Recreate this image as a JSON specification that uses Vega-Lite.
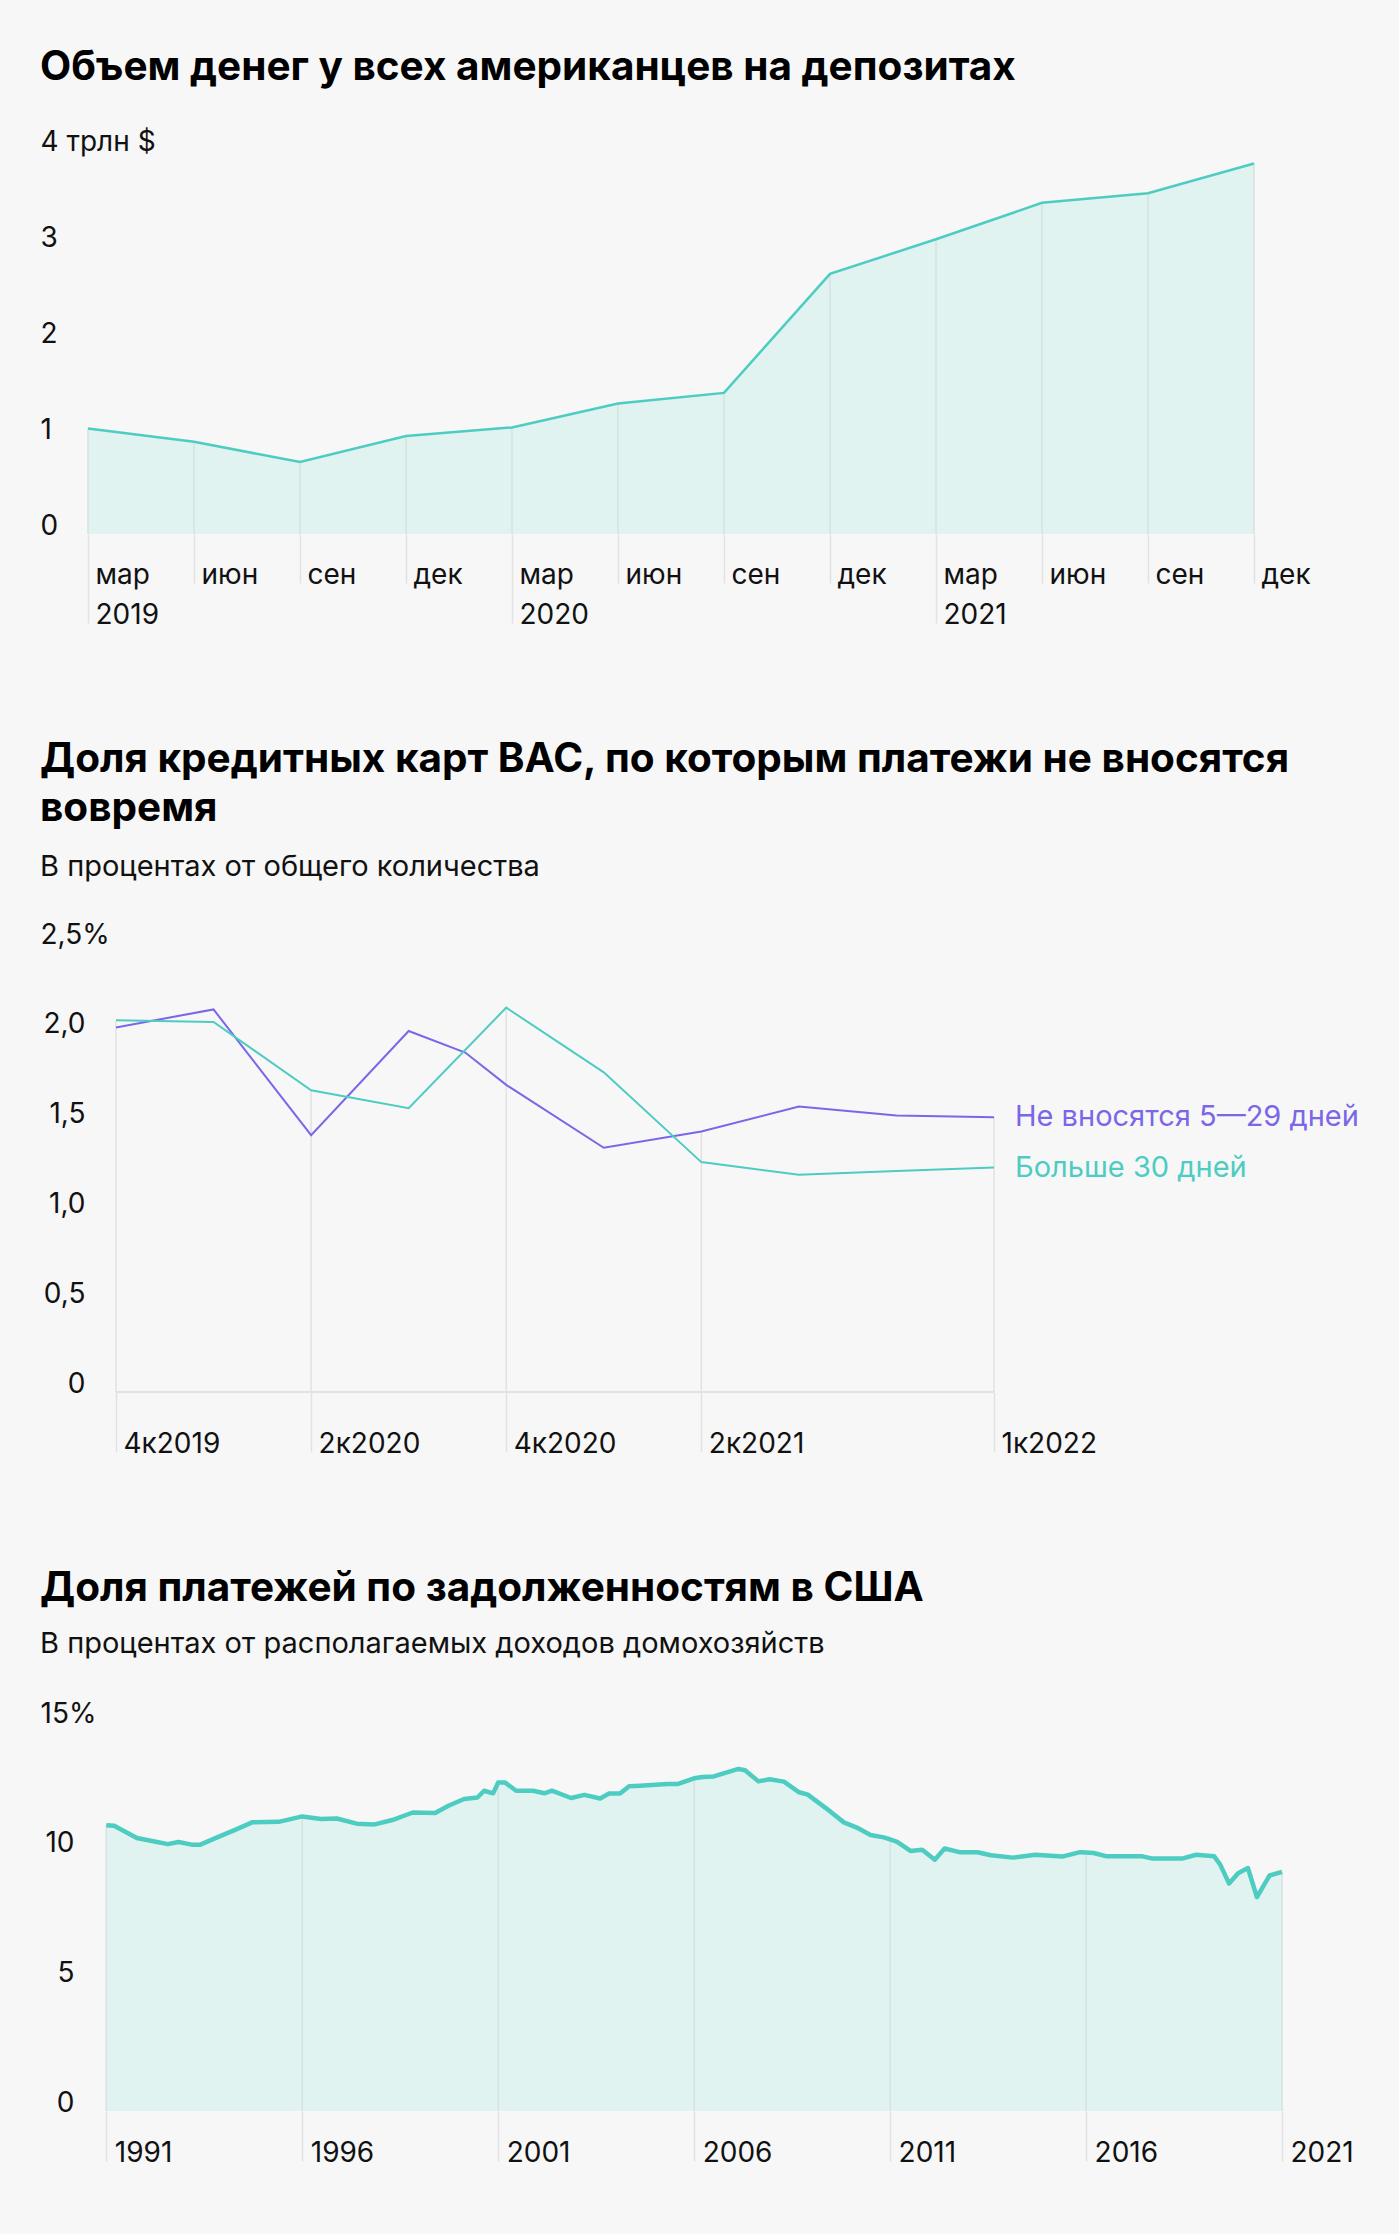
{
  "$schema": "https://vega.github.io/schema/vega-lite/v6.json",
  "background": "#f7f7f7",
  "padding": {"left": 40, "top": 47, "right": 40, "bottom": 110},
  "autosize": {"type": "pad"},
  "spacing": 110,
  "config": {
    "view": {"stroke": null},
    "font": "Inter",
    "title": {"anchor": "start", "frame": "bounds", "font": "Inter", "fontSize": 40.5, "fontWeight": 700, "color": "#000000", "subtitleFont": "Inter", "subtitleFontSize": 29, "subtitleColor": "#111111", "subtitlePadding": 24, "lineHeight": 49, "offset": 39},
    "axis": {"labelFont": "Inter", "labelFontSize": 28, "labelColor": "#111111", "domain": false, "grid": false, "title": null, "labelOverlap": false, "labelFlush": false}
  },
  "vconcat": [
    {
      "width": 1166,
      "height": 384,
      "title": {"text": "Объем денег у всех американцев на депозитах", "offset": 40},
      "data": {"values": [
        {"m": "мар 2019", "v": 1.10},
        {"m": "июн 2019", "v": 0.96},
        {"m": "сен 2019", "v": 0.75},
        {"m": "дек 2019", "v": 1.02},
        {"m": "мар 2020", "v": 1.11},
        {"m": "июн 2020", "v": 1.36},
        {"m": "сен 2020", "v": 1.47},
        {"m": "дек 2020", "v": 2.71},
        {"m": "мар 2021", "v": 3.07},
        {"m": "июн 2021", "v": 3.45},
        {"m": "сен 2021", "v": 3.55},
        {"m": "дек 2021", "v": 3.86}
      ]},
      "encoding": {
        "x": {"field": "m", "type": "ordinal", "sort": null, "scale": {"type": "point", "padding": 0},
          "axis": {
            "labelExpr": "indexof(datum.value,'мар')==0 ? split(datum.value,' ') : split(datum.value,' ')[0]",
            "labelAngle": 0, "labelAlign": "left", "labelBaseline": "alphabetic", "labelOffset": 7, "labelLineHeight": 40,
            "ticks": true, "tickColor": "#e2e2e2", "tickWidth": 1.5,
            "tickSize": {"condition": {"test": "indexof(datum.value,'мар')==0", "value": 89}, "value": 49},
            "labelPadding": {"condition": {"test": "indexof(datum.value,'мар')==0", "value": -40}, "value": 0}
          }
        }
      },
      "layer": [
        {"mark": {"type": "area", "color": "#e1f3f0"},
         "encoding": {"y": {"field": "v", "type": "quantitative", "scale": {"domain": [0, 4], "nice": false},
           "axis": {"values": [0, 1, 2, 3, 4], "labelExpr": "datum.value == 4 ? '4 трлн $' : format(datum.value, 'd')", "ticks": false, "labelAlign": "left", "labelPadding": 48, "labelBaseline": "alphabetic"}}}},
        {"mark": {"type": "rule", "color": "#d3e3e0", "strokeWidth": 1.5},
         "encoding": {"y": {"field": "v", "type": "quantitative"}, "y2": {"datum": 0}}},
        {"mark": {"type": "line", "color": "#4dccc2", "strokeWidth": 2.5},
         "encoding": {"y": {"field": "v", "type": "quantitative"}}}
      ]
    },
    {
      "width": 906,
      "height": 449,
      "title": {"text": ["Доля кредитных карт ВАС, по которым платежи не вносятся", "вовремя"], "subtitle": "В процентах от общего количества"},
      "data": {"values": [
        {"q": 0, "s": "Не вносятся 5—29 дней", "v": 2.03},
        {"q": 1, "s": "Не вносятся 5—29 дней", "v": 2.13},
        {"q": 2, "s": "Не вносятся 5—29 дней", "v": 1.43},
        {"q": 3, "s": "Не вносятся 5—29 дней", "v": 2.01},
        {"q": 3.58, "s": "Не вносятся 5—29 дней", "v": 1.89},
        {"q": 4, "s": "Не вносятся 5—29 дней", "v": 1.71},
        {"q": 5, "s": "Не вносятся 5—29 дней", "v": 1.36},
        {"q": 6, "s": "Не вносятся 5—29 дней", "v": 1.45},
        {"q": 7, "s": "Не вносятся 5—29 дней", "v": 1.59},
        {"q": 8, "s": "Не вносятся 5—29 дней", "v": 1.54},
        {"q": 9, "s": "Не вносятся 5—29 дней", "v": 1.53},
        {"q": 0, "s": "Больше 30 дней", "v": 2.07},
        {"q": 1, "s": "Больше 30 дней", "v": 2.06},
        {"q": 2, "s": "Больше 30 дней", "v": 1.68},
        {"q": 3, "s": "Больше 30 дней", "v": 1.58},
        {"q": 4, "s": "Больше 30 дней", "v": 2.14},
        {"q": 5, "s": "Больше 30 дней", "v": 1.78},
        {"q": 6, "s": "Больше 30 дней", "v": 1.28},
        {"q": 7, "s": "Больше 30 дней", "v": 1.21},
        {"q": 8, "s": "Больше 30 дней", "v": 1.23},
        {"q": 9, "s": "Больше 30 дней", "v": 1.25}
      ]},
      "encoding": {
        "x": {"field": "q", "type": "quantitative", "scale": {"domain": [-0.287, 9], "nice": false, "zero": false},
          "axis": {"values": [0, 2, 4, 6, 9],
            "labelExpr": "datum.value == 0 ? '4к2019' : datum.value == 2 ? '2к2020' : datum.value == 4 ? '4к2020' : datum.value == 6 ? '2к2021' : '1к2022'",
            "labelAlign": "left", "labelBaseline": "alphabetic", "labelOffset": 7, "labelPadding": 0,
            "ticks": true, "tickColor": "#e2e2e2", "tickWidth": 1.5, "tickSize": 60}}
      },
      "layer": [
        {"transform": [{"filter": {"field": "q", "oneOf": [0, 2, 4, 6, 9]}}, {"aggregate": [{"op": "max", "field": "v", "as": "vmax"}], "groupby": ["q"]}],
         "mark": {"type": "rule", "color": "#e2e2e2", "strokeWidth": 1.5},
         "encoding": {"y": {"field": "vmax", "type": "quantitative"}, "y2": {"datum": 0}}},
        {"mark": {"type": "rule", "color": "#e2e2e2", "strokeWidth": 2},
         "encoding": {"y": {"datum": 0, "type": "quantitative"}, "x": {"datum": 0, "type": "quantitative"}, "x2": {"datum": 9}}},
        {"mark": {"type": "line", "strokeWidth": 2},
         "encoding": {
           "y": {"field": "v", "type": "quantitative", "scale": {"domain": [0, 2.5], "nice": false},
             "axis": {"values": [0, 0.5, 1, 1.5, 2, 2.5],
               "labelExpr": "datum.value == 2.5 ? '2,5%' : datum.value == 0 ? '0' : replace(format(datum.value, '.1f'), '.', ',')",
               "ticks": false, "labelBaseline": "alphabetic",
               "labelAlign": {"condition": {"test": "datum.value == 2.5", "value": "left"}, "value": "right"},
               "labelPadding": {"condition": {"test": "datum.value == 2.5", "value": 48}, "value": 3}}},
           "color": {"field": "s", "type": "nominal", "scale": {"domain": ["Не вносятся 5—29 дней", "Больше 30 дней"], "range": ["#7a67e8", "#4dccc2"]}, "legend": null}
         }},
        {"transform": [{"filter": "datum.q == 9"}],
         "mark": {"type": "text", "align": "left", "baseline": "middle", "dx": 21, "fontSize": 29, "font": "Inter"},
         "encoding": {
           "y": {"field": "v", "type": "quantitative"},
           "text": {"field": "s"},
           "color": {"field": "s", "type": "nominal", "legend": null}
         }}
      ]
    },
    {
      "width": 1194,
      "height": 389,
      "title": {"text": "Доля платежей по задолженностям в США", "subtitle": "В процентах от располагаемых доходов домохозяйств", "offset": 41, "subtitlePadding": 21},
      "data": {"values": [
        {"t": 1991.0, "v": 11.02},
        {"t": 1991.2, "v": 11.0},
        {"t": 1991.78, "v": 10.53},
        {"t": 1992.2, "v": 10.4},
        {"t": 1992.57, "v": 10.29},
        {"t": 1992.84, "v": 10.37},
        {"t": 1993.18, "v": 10.27},
        {"t": 1993.4, "v": 10.27},
        {"t": 1993.8, "v": 10.53},
        {"t": 1994.3, "v": 10.85},
        {"t": 1994.72, "v": 11.13},
        {"t": 1995.4, "v": 11.15},
        {"t": 1996.0, "v": 11.36},
        {"t": 1996.48, "v": 11.26},
        {"t": 1996.88, "v": 11.28},
        {"t": 1997.39, "v": 11.08},
        {"t": 1997.85, "v": 11.05},
        {"t": 1998.3, "v": 11.22},
        {"t": 1998.82, "v": 11.51},
        {"t": 1999.39, "v": 11.49},
        {"t": 1999.73, "v": 11.77},
        {"t": 2000.13, "v": 12.03},
        {"t": 2000.47, "v": 12.09},
        {"t": 2000.64, "v": 12.35},
        {"t": 2000.87, "v": 12.25},
        {"t": 2001.0, "v": 12.67},
        {"t": 2001.17, "v": 12.67},
        {"t": 2001.46, "v": 12.35},
        {"t": 2001.89, "v": 12.35},
        {"t": 2002.18, "v": 12.25},
        {"t": 2002.37, "v": 12.35},
        {"t": 2002.86, "v": 12.07},
        {"t": 2003.2, "v": 12.19},
        {"t": 2003.6, "v": 12.05},
        {"t": 2003.83, "v": 12.24},
        {"t": 2004.11, "v": 12.24},
        {"t": 2004.34, "v": 12.52},
        {"t": 2004.62, "v": 12.54},
        {"t": 2005.31, "v": 12.61},
        {"t": 2005.59, "v": 12.61},
        {"t": 2006.0, "v": 12.83},
        {"t": 2006.22, "v": 12.88},
        {"t": 2006.5, "v": 12.9},
        {"t": 2007.13, "v": 13.19},
        {"t": 2007.3, "v": 13.14},
        {"t": 2007.64, "v": 12.71},
        {"t": 2007.92, "v": 12.79},
        {"t": 2008.29, "v": 12.7},
        {"t": 2008.68, "v": 12.29},
        {"t": 2008.9, "v": 12.2},
        {"t": 2009.36, "v": 11.68},
        {"t": 2009.82, "v": 11.13},
        {"t": 2010.15, "v": 10.93},
        {"t": 2010.5, "v": 10.64},
        {"t": 2010.84, "v": 10.55},
        {"t": 2011.0, "v": 10.47},
        {"t": 2011.18, "v": 10.38},
        {"t": 2011.52, "v": 10.03},
        {"t": 2011.82, "v": 10.07},
        {"t": 2012.14, "v": 9.69},
        {"t": 2012.39, "v": 10.12},
        {"t": 2012.77, "v": 9.98},
        {"t": 2013.23, "v": 9.98},
        {"t": 2013.57, "v": 9.86},
        {"t": 2014.14, "v": 9.77},
        {"t": 2014.71, "v": 9.88},
        {"t": 2015.39, "v": 9.81},
        {"t": 2015.85, "v": 9.98},
        {"t": 2016.0, "v": 9.97},
        {"t": 2016.19, "v": 9.95},
        {"t": 2016.53, "v": 9.82},
        {"t": 2017.44, "v": 9.82},
        {"t": 2017.67, "v": 9.74},
        {"t": 2018.47, "v": 9.74},
        {"t": 2018.81, "v": 9.88},
        {"t": 2019.27, "v": 9.82},
        {"t": 2019.42, "v": 9.51},
        {"t": 2019.65, "v": 8.77},
        {"t": 2019.88, "v": 9.17},
        {"t": 2020.13, "v": 9.37},
        {"t": 2020.36, "v": 8.25},
        {"t": 2020.68, "v": 9.08},
        {"t": 2021.0, "v": 9.22}
      ]},
      "encoding": {
        "x": {"field": "t", "type": "quantitative", "scale": {"domain": [1990.533, 2021], "nice": false, "zero": false},
          "axis": {"values": [1991, 1996, 2001, 2006, 2011, 2016, 2021], "format": "d",
            "labelAlign": "left", "labelBaseline": "alphabetic", "labelOffset": 8, "labelPadding": 0,
            "ticks": true, "tickColor": "#e2e2e2", "tickWidth": 1.5, "tickSize": 50}}
      },
      "layer": [
        {"mark": {"type": "area", "color": "#e1f3f0"},
         "encoding": {"y": {"field": "v", "type": "quantitative", "scale": {"domain": [0, 15], "nice": false},
           "axis": {"values": [0, 5, 10, 15],
             "labelExpr": "datum.value == 15 ? '15%' : datum.label",
             "ticks": false, "labelBaseline": "alphabetic",
             "labelAlign": {"condition": {"test": "datum.value == 15", "value": "left"}, "value": "right"},
             "labelPadding": {"condition": {"test": "datum.value == 15", "value": 48}, "value": 14}}}}},
        {"transform": [{"filter": {"field": "t", "oneOf": [1991, 1996, 2001, 2006, 2011, 2016, 2021]}}],
         "mark": {"type": "rule", "color": "#d3e3e0", "strokeWidth": 1.5},
         "encoding": {"y": {"field": "v", "type": "quantitative"}, "y2": {"datum": 0}}},
        {"mark": {"type": "line", "color": "#4dccc2", "strokeWidth": 4.5, "strokeJoin": "round"},
         "encoding": {"y": {"field": "v", "type": "quantitative"}}}
      ]
    }
  ]
}
